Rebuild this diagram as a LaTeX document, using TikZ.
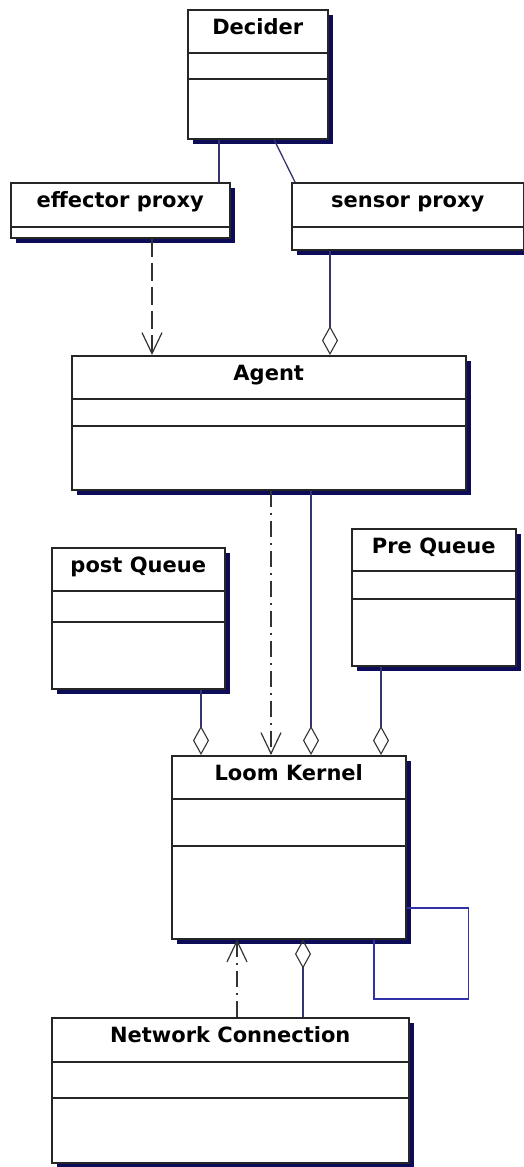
\documentclass[tikz,border=0pt]{standalone}
\usepackage{fontspec}
\setsansfont{DejaVu Sans}
\usepackage{tikz}
\usetikzlibrary{
        arrows.meta,
        calc,
        shadows
    }
\definecolor{shadowblue}{RGB}{12,12,88}
\definecolor{linkblue}{RGB}{52,52,112}
\definecolor{loopblue}{RGB}{48,48,168}
\tikzset{x=1pt,y=-1pt}
\tikzset{classbox/.style={draw=black!85,line width=1.5pt,fill=white,inner sep=0pt,anchor=north west,
        drop shadow={shadow xshift=5pt,shadow yshift=-5pt,fill=shadowblue,opacity=1}}}
\tikzset{classtitle/.style={anchor=base,inner sep=0pt,font=\sffamily\bfseries\fontsize{21}{25}\selectfont}}
\tikzset{classline/.style={draw=black!85,line width=1.3pt}}
\tikzset{assoc/.style={draw=linkblue,line width=1.3pt}}
\tikzset{aggr/.style={assoc,-{Diamond[open,length=29pt,width=16pt,line width=1.1pt,color=black!80]}}}
\tikzset{dep/.style={draw=black!80,line width=1.3pt,-{Straight Barb[length=21pt,width=20pt,line width=1.2pt]}}}
\tikzset{dashes/.style={dash pattern=on 18pt off 6pt}}
\tikzset{dashdot/.style={dash pattern=on 16pt off 6pt on 2pt off 6pt}}

% name, top left, width, height, separators, title
\newcommand{\classbox}[6]{%
  \node[classbox,minimum width=#3pt,minimum height=#4pt] (#1) at (#2) {};
  \node[classtitle] (#1t) at ([yshift=-25pt]#1.north) {#6};
  \foreach \s in {#5}
    \draw[classline] ([yshift=-\s pt]#1.north west) -- ([yshift=-\s pt]#1.north east);
}

\begin{document}
\begin{tikzpicture}
                \useasboundingbox (0,0) rectangle (524,1167);
                \classbox{dec}{187,9}{140}{129}{44,70}{Decider}
                \classbox{eff}{10,182}{219}{55}{45}{effector proxy}
                \classbox{sen}{291,182}{232}{67}{45}{sensor proxy}
                \classbox{ag}{71,355}{394}{134}{44,71}{Agent}
                \classbox{pq}{51,547}{173}{141}{44,75}{post Queue}
                \classbox{prq}{351,528}{164}{137}{43,71}{Pre Queue}
                \classbox{lk}{171,755}{234}{183}{44,91}{Loom Kernel}
                \classbox{nc}{51,1017}{357}{145}{45,81}{Network Connection}
                \path[assoc]
                    ([xshift=32pt]dec.south west) edge ([xshift=209pt]eff.north west)
                    ([xshift=87pt]dec.south west) edge ([xshift=4pt]sen.north west);
                \draw[dep,dashes] ([xshift=142pt]eff.south west) -- ([xshift=81pt]ag.north west);
                \draw[aggr] ([xshift=39pt]sen.south west) -- ([xshift=259pt]ag.north west);
                \draw[dep,dashdot] ([xshift=200pt]ag.south west) -- ([xshift=100pt]lk.north west);
                \draw[aggr] ([xshift=240pt]ag.south west) -- ([xshift=140pt]lk.north west);
                \draw[aggr] ([xshift=150pt]pq.south west) -- ([xshift=30pt]lk.north west);
                \draw[aggr] ([xshift=30pt]prq.south west) -- ([xshift=210pt]lk.north west);
                \draw[assoc,draw=loopblue] ([yshift=-153pt]lk.north east) -- ++(62,0) -- ++(0,91) -| ([xshift=203pt]lk.south west);
                \draw[dep,dashdot] ([xshift=186pt]nc.north west) -- ([xshift=66pt]lk.south west);
                \draw[aggr] ([xshift=252pt]nc.north west) -- ([xshift=132pt]lk.south west);
            \end{tikzpicture}
\end{document}
